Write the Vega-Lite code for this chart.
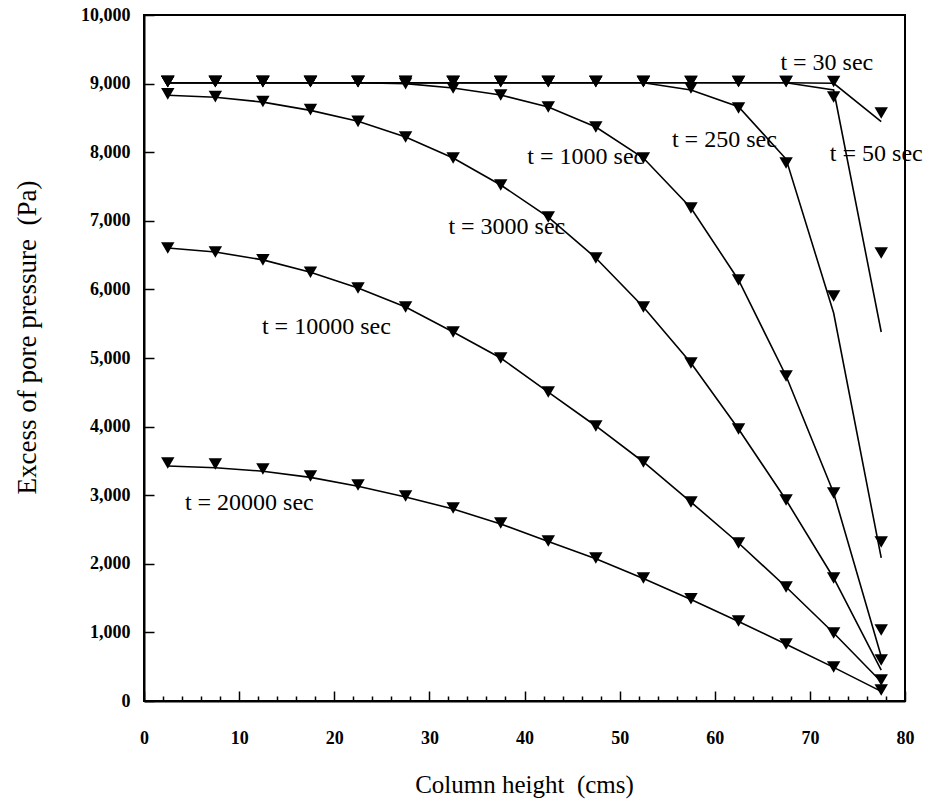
{
  "$schema": "https://vega.github.io/schema/vega-lite/v6.json",
  "width": 761,
  "height": 686,
  "autosize": {"type": "none"},
  "padding": {"left": 144, "top": 15, "right": 24, "bottom": 104},
  "background": "white",
  "config": {
    "font": "Liberation Serif",
    "view": {"stroke": "black", "strokeWidth": 2},
    "axis": {"grid": false, "labelColor": "black", "titleColor": "black", "labelFlush": false, "labelOverlap": false, "labelFont": "Liberation Serif", "titleFont": "Liberation Serif"},
    "text": {"font": "Liberation Serif"}
  },
  "datasets": {
    "curves": [
      {"s":"30","x":2.5,"m":9030,"l":9013},{"s":"30","x":7.5,"m":9030,"l":9013},{"s":"30","x":12.5,"m":9030,"l":9013},{"s":"30","x":17.5,"m":9030,"l":9013},
      {"s":"30","x":22.5,"m":9030,"l":9013},{"s":"30","x":27.5,"m":9030,"l":9013},{"s":"30","x":32.5,"m":9030,"l":9013},{"s":"30","x":37.5,"m":9030,"l":9013},
      {"s":"30","x":42.5,"m":9030,"l":9013},{"s":"30","x":47.5,"m":9030,"l":9013},{"s":"30","x":52.5,"m":9030,"l":9013},{"s":"30","x":57.5,"m":9030,"l":9013},
      {"s":"30","x":62.5,"m":9030,"l":9013},{"s":"30","x":67.5,"m":9030,"l":9013},{"s":"30","x":72.5,"m":9030,"l":9005},{"s":"30","x":77.5,"m":8571,"l":8445},

      {"s":"50","x":2.5,"m":9030,"l":9013},{"s":"50","x":7.5,"m":9030,"l":9013},{"s":"50","x":12.5,"m":9030,"l":9013},{"s":"50","x":17.5,"m":9030,"l":9013},
      {"s":"50","x":22.5,"m":9030,"l":9013},{"s":"50","x":27.5,"m":9030,"l":9013},{"s":"50","x":32.5,"m":9030,"l":9013},{"s":"50","x":37.5,"m":9030,"l":9013},
      {"s":"50","x":42.5,"m":9030,"l":9013},{"s":"50","x":47.5,"m":9030,"l":9013},{"s":"50","x":52.5,"m":9030,"l":9013},{"s":"50","x":57.5,"m":9030,"l":9013},
      {"s":"50","x":62.5,"m":9030,"l":9013},{"s":"50","x":67.5,"m":9030,"l":9013},{"s":"50","x":72.5,"m":8805,"l":8907},{"s":"50","x":77.5,"m":6531,"l":5379},

      {"s":"250","x":2.5,"m":9030,"l":9013},{"s":"250","x":7.5,"m":9030,"l":9013},{"s":"250","x":12.5,"m":9030,"l":9013},{"s":"250","x":17.5,"m":9030,"l":9013},
      {"s":"250","x":22.5,"m":9030,"l":9013},{"s":"250","x":27.5,"m":9030,"l":9013},{"s":"250","x":32.5,"m":9030,"l":9013},{"s":"250","x":37.5,"m":9030,"l":9013},
      {"s":"250","x":42.5,"m":9030,"l":9013},{"s":"250","x":47.5,"m":9030,"l":9013},{"s":"250","x":52.5,"m":9030,"l":9013},{"s":"250","x":57.5,"m":8935,"l":8907},
      {"s":"250","x":62.5,"m":8644,"l":8663},{"s":"250","x":67.5,"m":7843,"l":7900},{"s":"250","x":72.5,"m":5904,"l":5656},{"s":"250","x":77.5,"m":2318,"l":2085},

      {"s":"1000","x":2.5,"m":9030,"l":9013},{"s":"1000","x":7.5,"m":9030,"l":9013},{"s":"1000","x":12.5,"m":9030,"l":9013},{"s":"1000","x":17.5,"m":9030,"l":9013},
      {"s":"1000","x":22.5,"m":9030,"l":9013},{"s":"1000","x":27.5,"m":9000,"l":9000},{"s":"1000","x":32.5,"m":8935,"l":8935},{"s":"1000","x":37.5,"m":8834,"l":8834},
      {"s":"1000","x":42.5,"m":8659,"l":8659},{"s":"1000","x":47.5,"m":8367,"l":8367},{"s":"1000","x":52.5,"m":7915,"l":7915},{"s":"1000","x":57.5,"m":7187,"l":7187},
      {"s":"1000","x":62.5,"m":6137,"l":6137},{"s":"1000","x":67.5,"m":4738,"l":4738},{"s":"1000","x":72.5,"m":3032,"l":3032},{"s":"1000","x":77.5,"m":1035,"l":650},

      {"s":"3000","x":2.5,"m":8850,"l":8830},{"s":"3000","x":7.5,"m":8810,"l":8800},{"s":"3000","x":12.5,"m":8740,"l":8730},{"s":"3000","x":17.5,"m":8620,"l":8610},
      {"s":"3000","x":22.5,"m":8450,"l":8450},{"s":"3000","x":27.5,"m":8221,"l":8221},{"s":"3000","x":32.5,"m":7915,"l":7915},{"s":"3000","x":37.5,"m":7522,"l":7522},
      {"s":"3000","x":42.5,"m":7055,"l":7055},{"s":"3000","x":47.5,"m":6458,"l":6458},{"s":"3000","x":52.5,"m":5743,"l":5743},{"s":"3000","x":57.5,"m":4927,"l":4927},
      {"s":"3000","x":62.5,"m":3965,"l":3965},{"s":"3000","x":67.5,"m":2930,"l":2930},{"s":"3000","x":72.5,"m":1793,"l":1793},{"s":"3000","x":77.5,"m":598,"l":450},

      {"s":"10000","x":2.5,"m":6603,"l":6603},{"s":"10000","x":7.5,"m":6545,"l":6545},{"s":"10000","x":12.5,"m":6430,"l":6430},{"s":"10000","x":17.5,"m":6250,"l":6250},
      {"s":"10000","x":22.5,"m":6020,"l":6020},{"s":"10000","x":27.5,"m":5743,"l":5743},{"s":"10000","x":32.5,"m":5379,"l":5379},{"s":"10000","x":37.5,"m":5000,"l":5000},
      {"s":"10000","x":42.5,"m":4504,"l":4504},{"s":"10000","x":47.5,"m":4009,"l":4009},{"s":"10000","x":52.5,"m":3484,"l":3484},{"s":"10000","x":57.5,"m":2900,"l":2900},
      {"s":"10000","x":62.5,"m":2303,"l":2303},{"s":"10000","x":67.5,"m":1662,"l":1662},{"s":"10000","x":72.5,"m":991,"l":991},{"s":"10000","x":77.5,"m":306,"l":280},

      {"s":"20000","x":2.5,"m":3469,"l":3425},{"s":"20000","x":7.5,"m":3455,"l":3400},{"s":"20000","x":12.5,"m":3382,"l":3350},{"s":"20000","x":17.5,"m":3280,"l":3260},
      {"s":"20000","x":22.5,"m":3149,"l":3130},{"s":"20000","x":27.5,"m":2988,"l":2975},{"s":"20000","x":32.5,"m":2813,"l":2800},{"s":"20000","x":37.5,"m":2595,"l":2580},
      {"s":"20000","x":42.5,"m":2332,"l":2325},{"s":"20000","x":47.5,"m":2085,"l":2075},{"s":"20000","x":52.5,"m":1793,"l":1785},{"s":"20000","x":57.5,"m":1490,"l":1480},
      {"s":"20000","x":62.5,"m":1166,"l":1160},{"s":"20000","x":67.5,"m":831,"l":828},{"s":"20000","x":72.5,"m":496,"l":490},{"s":"20000","x":77.5,"m":160,"l":140}
    ],
    "labels": [
      {"label":"t = 30 sec","x":66.9,"y":9300},
      {"label":"t = 50 sec","x":72.1,"y":7974},
      {"label":"t = 250 sec","x":55.5,"y":8178},
      {"label":"t = 1000 sec","x":40.3,"y":7935},
      {"label":"t = 3000 sec","x":32.0,"y":6914},
      {"label":"t = 10000 sec","x":12.4,"y":5452},
      {"label":"t = 20000 sec","x":4.3,"y":2886}
    ]
  },
  "encoding": {
    "x": {"field": "x", "type": "quantitative", "scale": {"domain": [0, 80], "nice": false, "zero": false},
      "axis": {"orient": "bottom",
        "values": [0,2,4,6,8,10,12,14,16,18,20,22,24,26,28,30,32,34,36,38,40,42,44,46,48,50,52,54,56,58,60,62,64,66,68,70,72,74,76,78,80],
        "labelExpr": "datum.value % 10 === 0 ? format(datum.value, 'd') : ''",
        "labelOverlap": false, "labelFlush": false,
        "tickSize": {"condition": {"test": "datum.value % 10 === 0", "value": -10}, "value": -5},
        "tickColor": "black", "tickWidth": 1.5, "domainColor": "black", "domainWidth": 2,
        "labelPadding": 38, "labelFontSize": 18, "labelFontWeight": "bold",
        "title": "Column height\u00a0\u00a0(cms)", "titleFontSize": 25, "titleFontWeight": "normal", "titleX": 380, "titleY": 91, "titleAlign": "center", "titleBaseline": "alphabetic"}}
  },
  "layer": [
    {
      "data": {"name": "curves"},
      "mark": {"type": "line", "color": "black", "strokeWidth": 1.6, "clip": false},
      "encoding": {
        "y": {"field": "l", "type": "quantitative", "scale": {"domain": [0, 10000], "nice": false},
          "axis": {"orient": "left",
            "values": [0,1000,2000,3000,4000,5000,6000,7000,8000,9000,10000],
            "format": ",d",
            "labelOverlap": false, "labelFlush": false,
            "tickSize": -10,
            "tickColor": "black", "tickWidth": 1.5, "domainColor": "black", "domainWidth": 2,
            "labelPadding": 24, "labelFontSize": 18, "labelFontWeight": "bold",
            "title": "Excess of pore pressure\u00a0\u00a0(Pa)", "titleFontSize": 27, "titleFontWeight": "normal", "titleX": -117, "titleY": 322, "titleAngle": -90, "titleAlign": "center", "titleBaseline": "middle"}},
        "detail": {"field": "s"}
      }
    },
    {
      "data": {"name": "curves"},
      "mark": {"type": "point", "shape": "triangle-down", "filled": true, "color": "black", "size": 180, "opacity": 1, "clip": false},
      "encoding": {
        "y": {"field": "m", "type": "quantitative"}
      }
    },
    {
      "data": {"name": "labels"},
      "mark": {"type": "text", "align": "left", "baseline": "middle", "fontSize": 24, "font": "Liberation Serif", "color": "black", "clip": false},
      "encoding": {
        "y": {"field": "y", "type": "quantitative"},
        "text": {"field": "label"}
      }
    }
  ]
}
